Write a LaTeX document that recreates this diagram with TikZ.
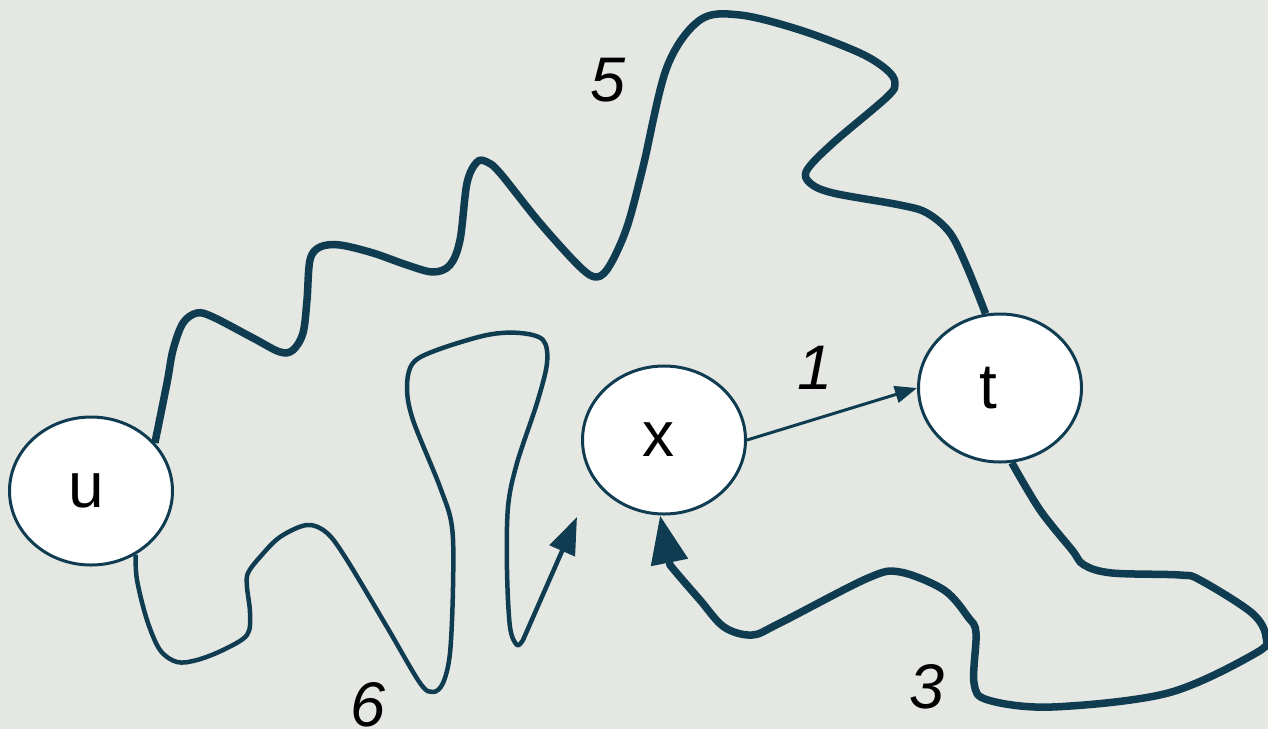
\documentclass[tikz,border=0pt]{standalone}
\usepackage{fontspec}
\setmainfont{Liberation Sans}
\usetikzlibrary{arrows.meta,shapes.geometric}
\definecolor{bgcol}{RGB}{229,232,226}
\definecolor{ink}{RGB}{16,60,82}
\begin{document}
\begin{tikzpicture}[x=1pt,y=-1pt,
  vertex/.style={ellipse,draw=ink,line width=3pt,fill=white,
    minimum width=163pt,minimum height=148pt,inner sep=0pt,
    font=\fontsize{64}{70}\selectfont},
  weight/.style={font=\fontsize{63}{70}\selectfont\itshape},
  walk/.style={draw=ink,line width=#1,line join=round},
  walk/.default=6pt]
% canvas
\useasboundingbox (0,0) rectangle (1268,729);
\fill[bgcol] (0,0) rectangle (1268,729);

% vertices (letters sit a little left of centre)
\node[vertex] (u) at (91,491) {\kern-10pt u};
\node[vertex] (x) at (664,440) {\kern-12pt x};
\node[vertex] (t) at (1000,388) {\kern-24pt t};
\coordinate (xnear) at (577,517);

% path of weight 5 from u to t
\draw[walk=7.5pt] plot[smooth,tension=0.55] coordinates {
  (u.37) (167,383) (173,350) (183,323) (197,313) (213,317) (253,338)
  (280,352) (293,350) (303,333) (307,300) (310,260) (320,247) (340,245)
  (373,253) (407,265) (433,272) (450,265) (460,240) (467,183) (477,162)
  (487,162) (500,173) (540,223) (580,267) (597,277) (610,265) (627,227)
  (643,167) (667,67) (700,20) (740,15) (800,30) (860,53)
  (887,70) (895,83) (887,97) (833,143) (807,170) (810,183) (833,193)
  (900,205) (927,213) (950,233) (967,267) (t.101)};

% path of weight 6 from u towards x
\draw[walk=4.5pt,-{Triangle[length=37pt,width=27pt]}] plot[smooth,tension=0.55] coordinates {
  (u.-55) (137,580) (147,620) (160,650) (177,662) (197,660) (223,650)
  (247,635) (250,613) (247,587) (248,573) (260,557) (280,537) (307,525)
  (327,533) (347,560) (387,627) (420,683) (433,692) (443,683) (450,653)
  (453,587) (452,527) (440,487) (413,420) (407,387) (413,363) (437,350)
  (487,335) (520,333) (543,340) (547,363) (537,403) (517,463) (508,507)
  (507,570) (510,627) (517,645) (523,640)} -- (xnear);

% path of weight 3 from t back to x
\draw[walk=7.5pt,-{Triangle[length=48pt,width=36pt]}] plot[smooth,tension=0.55] coordinates {
  (t.-81) (1040,510) (1072,550) (1084,565) (1112,573) (1180,575)
  (1200,580) (1252,613) (1266,637) (1256,653) (1168,693) (1052,707)
  (988,700) (974,683) (976,633) (968,617) (944,590) (900,572) (868,578)
  (780,623) (752,635) (724,627) (700,600) (680,577) (670,565)} -- (x.-93);

% direct edge of weight 1
\draw[walk=3pt,-{Triangle[length=22pt,width=17pt]}] (x.east) -- (t.west);

% weights
\node[weight] (w5) at (608,80) {5};
\node[weight] (w1) at (815,368) {1};
\node[weight] (w6) at (368,705) {6};
\node[weight] (w3) at (927,687) {3};
\end{tikzpicture}
\end{document}
